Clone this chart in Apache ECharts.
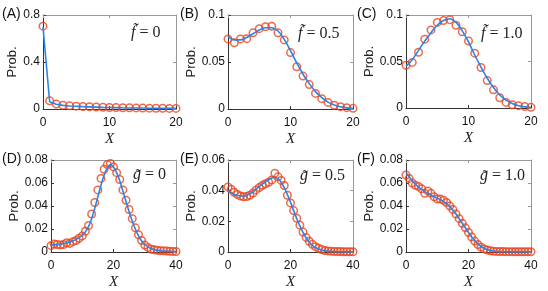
<!DOCTYPE html>
<html><head><meta charset="utf-8">
<script src="https://cdn.jsdelivr.net/npm/echarts@6/dist/echarts.min.js"></script>
<style>html,body{margin:0;padding:0;background:#fff}#c{width:548px;height:291px}</style>
</head><body><div id="c"></div>
<script>
// ---- data ----
const x20 = [0,1,2,3,4,5,6,7,8,9,10,11,12,13,14,15,16,17,18,19,20];
const x40 = [0,1,2,3,4,5,6,7,8,9,10,11,12,13,14,15,16,17,18,19,20,21,22,23,24,25,26,27,28,29,30,31,32,33,34,35,36,37,38,39,40];

const simA = [0.705,0.070,0.042,0.032,0.027,0.024,0.021,0.019,0.017,0.015,0.013,0.012,0.011,0.010,0.009,0.008,0.007,0.006,0.006,0.005,0.005];
const thA  = [0.700,0.062,0.040,0.031,0.026,0.023,0.020,0.018,0.016,0.014,0.013,0.012,0.010,0.009,0.008,0.008,0.007,0.006,0.006,0.005,0.005];

const simB = [0.0746,0.0705,0.0746,0.0748,0.081,0.0855,0.0876,0.088,0.081,0.0735,0.060,0.045,0.035,0.026,0.0166,0.011,0.007,0.004,0.0025,0.0014,0.0007];
const thB  = [0.0775,0.0735,0.0735,0.076,0.080,0.084,0.0865,0.0865,0.083,0.074,0.062,0.049,0.037,0.027,0.0185,0.012,0.0073,0.0042,0.0023,0.0012,0.0006];

const simC = [0.046,0.049,0.060,0.074,0.084,0.092,0.094,0.095,0.089,0.082,0.072,0.059,0.0435,0.0295,0.0195,0.011,0.006,0.0035,0.0025,0.0015,0.0008];
const thC  = [0.045,0.052,0.062,0.072,0.081,0.089,0.094,0.096,0.092,0.083,0.071,0.057,0.044,0.032,0.022,0.014,0.0085,0.0048,0.0025,0.0012,0.0005];

const simD = [0.0055,0.007,0.0065,0.006,0.0065,0.008,0.0075,0.009,0.010,0.012,0.014,0.018,0.023,0.033,0.043,0.054,0.064,0.072,0.076,0.077,0.074,0.069,0.063,0.054,0.045,0.037,0.029,0.021,0.015,0.010,0.006,0.004,0.0025,0.002,0.0015,0.001,0.001,0.0008,0.0006,0.0005,0.0004];
const thD  = [0.006,0.0063,0.0066,0.007,0.0075,0.008,0.0088,0.0097,0.011,0.0125,0.0145,0.0175,0.022,0.029,0.038,0.048,0.058,0.067,0.073,0.076,0.074,0.069,0.062,0.053,0.044,0.035,0.027,0.020,0.014,0.0095,0.0065,0.0045,0.003,0.002,0.0015,0.001,0.0008,0.0006,0.0005,0.0004,0.0003];

const simE = [0.0424,0.041,0.039,0.0375,0.0365,0.036,0.0362,0.037,0.0385,0.0405,0.042,0.0435,0.0445,0.0455,0.047,0.0514,0.049,0.0467,0.0434,0.037,0.032,0.027,0.022,0.0175,0.013,0.0095,0.007,0.005,0.0035,0.0024,0.0016,0.001,0.0007,0.0005,0.0004,0.0003,0.0003,0.0002,0.0002,0.0002,0.0002];
const thE  = [0.0400,0.0385,0.0375,0.0368,0.0365,0.0365,0.0370,0.0380,0.0393,0.0410,0.0427,0.0443,0.0458,0.0472,0.0482,0.0486,0.0478,0.0455,0.0420,0.0375,0.0325,0.0270,0.0218,0.0170,0.0128,0.0093,0.0065,0.0044,0.0029,0.0019,0.0012,0.0008,0.0005,0.0004,0.0003,0.0002,0.0002,0.0001,0.0001,0.0001,0.0001];

const simF = [0.067,0.064,0.060,0.058,0.057,0.055,0.051,0.053,0.051,0.048,0.046,0.046,0.045,0.043,0.040,0.037,0.033,0.029,0.025,0.021,0.017,0.013,0.0095,0.0065,0.0042,0.0027,0.0017,0.001,0.0007,0.0005,0.0004,0.0004,0.0003,0.0003,0.0003,0.0002,0.0002,0.0002,0.0002,0.0002,0.0002];
const thF  = [0.069,0.0655,0.062,0.059,0.0565,0.0545,0.0525,0.051,0.0495,0.048,0.0468,0.0455,0.044,0.042,0.0395,0.0365,0.033,0.029,0.025,0.021,0.017,0.013,0.0097,0.007,0.0048,0.0032,0.002,0.0013,0.0008,0.0005,0.0003,0.0002,0.0002,0.0001,0.0001,0.0001,0.0001,0.0001,0.0001,0.0001,0.0001];

const panelLabels = ['(A)','(B)','(C)','(D)','(E)','(F)'];
const paramSym = ['f','f','f','g','g','g'];
const paramVal = ['0','0.5','1.0','0','0.5','1.0'];

// ---- layout ----
const panels = [
  {grid:{left:43,top:15,width:133,height:94}, xs:x20, sim:simA, th:thA, xmax:20, xint:10, ymax:0.8, yint:0.4, smooth:false, gap:22, lab:[2,14], ann:[131,33]},
  {grid:{left:228,top:15,width:125,height:94}, xs:x20, sim:simB, th:thB, xmax:20, xint:10, ymax:0.1, yint:0.05, smooth:0.4, gap:29, lab:[180,14], ann:[298,34]},
  {grid:{left:406,top:15,width:125,height:93}, xs:x20, sim:simC, th:thC, xmax:20, xint:10, ymax:0.1, yint:0.05, smooth:0.4, gap:29, lab:[357,14], ann:[481,34]},
  {grid:{left:51,top:160,width:125,height:93}, xs:x40, sim:simD, th:thD, xmax:40, xint:20, ymax:0.08, yint:0.02, smooth:0.4, gap:27, lab:[2,159], ann:[133,175]},
  {grid:{left:228,top:160,width:125,height:94}, xs:x40, sim:simE, th:thE, xmax:40, xint:20, ymax:0.06, yint:0.02, smooth:0.4, gap:29, lab:[180,159], ann:[300,176]},
  {grid:{left:406,top:160,width:125,height:93}, xs:x40, sim:simF, th:thF, xmax:40, xint:20, ymax:0.08, yint:0.02, smooth:0.4, gap:29, lab:[357,159], ann:[480,176]}
];

const RED = '#e8431c', BLUE = '#2c83e6';
const grid = [], xAxis = [], yAxis = [], series = [], graphic = [];
panels.forEach((p, i) => {
  grid.push(Object.assign({containLabel:false}, p.grid));
  const tickIn = {show:true, inside:true, length:3, lineStyle:{color:'#333', width:1}};
  xAxis.push({gridIndex:i, type:'value', min:0, max:p.xmax, interval:p.xint, position:'bottom',
    axisLine:{show:true, onZero:false, lineStyle:{color:'#333', width:1}}, axisTick:tickIn,
    axisLabel:{color:'#111', fontSize:12, fontFamily:'Liberation Sans', margin:8},
    splitLine:{show:false}, name:'X', nameLocation:'middle', nameGap:23,
    nameTextStyle:{fontFamily:'Liberation Serif', fontStyle:'italic', fontSize:15, color:'#222'}});
  xAxis.push({gridIndex:i, type:'value', min:0, max:p.xmax, interval:p.xint, position:'top',
    axisLine:{show:true, onZero:false, lineStyle:{color:'#999', width:1}},
    axisTick:{show:true, inside:true, length:3, lineStyle:{color:'#999'}}, axisLabel:{show:false}, splitLine:{show:false}});
  yAxis.push({gridIndex:i, type:'value', min:0, max:p.ymax, interval:p.yint, position:'left',
    axisLine:{show:true, onZero:false, lineStyle:{color:'#333', width:1}}, axisTick:tickIn,
    axisLabel:{color:'#111', fontSize:12, fontFamily:'Liberation Sans', margin:3},
    splitLine:{show:false}, name:'Prob.', nameLocation:'middle', nameGap:p.gap, nameRotate:90,
    nameTextStyle:{fontFamily:'Liberation Sans', fontSize:13, color:'#222'}});
  yAxis.push({gridIndex:i, type:'value', min:0, max:p.ymax, interval:p.yint, position:'right',
    axisLine:{show:true, onZero:false, lineStyle:{color:'#999', width:1}},
    axisTick:{show:true, inside:true, length:3, lineStyle:{color:'#999'}}, axisLabel:{show:false}, splitLine:{show:false}});
  series.push({type:'scatter', xAxisIndex:2*i, yAxisIndex:2*i, data:p.xs.map((x,k)=>[x,p.sim[k]]),
    symbol:'circle', symbolSize:7.5, clip:false,
    itemStyle:{color:'rgba(255,255,255,0)', borderColor:RED, borderWidth:1.5}, z:2, silent:true});
  series.push({type:'line', xAxisIndex:2*i, yAxisIndex:2*i, data:p.xs.map((x,k)=>[x,p.th[k]]),
    smooth:p.smooth, showSymbol:false, symbol:'none', lineStyle:{color:BLUE, width:1.6}, z:3, silent:true});
  graphic.push({type:'text', x:p.lab[0], y:p.lab[1], style:{text:panelLabels[i], font:'14px "Liberation Sans"', fill:'#111', verticalAlign:'middle', align:'left'}});
  graphic.push({type:'text', x:p.ann[0], y:p.ann[1], z:10, style:{
    text:'{s|'+paramSym[i]+'\u0303}{n| = '+paramVal[i]+'}', verticalAlign:'middle', align:'left',
    rich:{s:{fontFamily:'Liberation Serif', fontStyle:'italic', fontSize:16, fill:'#222'},
          n:{fontFamily:'Liberation Serif', fontSize:16, fill:'#222'}}}});
});

const chart = echarts.init(document.getElementById('c'), null, {renderer:'canvas'});
chart.setOption({animation:false, backgroundColor:'#fff', grid, xAxis, yAxis, series, graphic});
</script></body></html>
